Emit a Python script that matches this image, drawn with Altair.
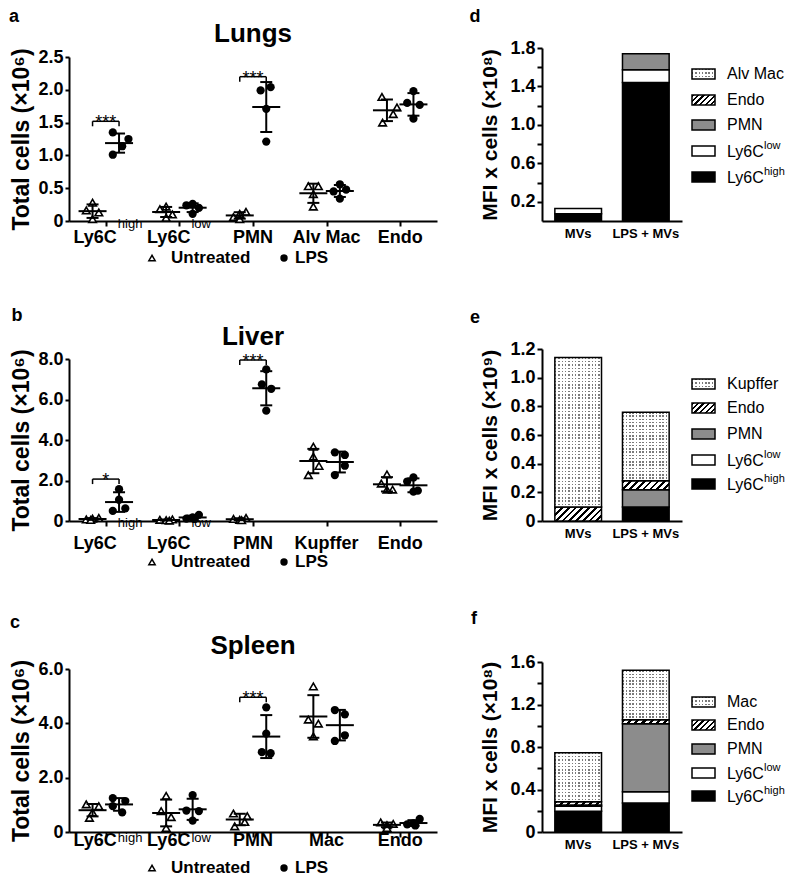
import altair as alt
import pandas as pd

FONT = "Liberation Sans"

# ---------------- Dot plot data (total cells, x10^6) ----------------
lung_labels = ["Ly6C", "Ly6C", "PMN", "Alv Mac", "Endo"]
lung_sups = ["high", "low", "", "", ""]
lung_untreated = [[0.28, 0.16, 0.13, 0.03], [0.22, 0.18, 0.10, 0.05], [0.14, 0.11, 0.06, 0.03],
                  [0.53, 0.53, 0.41, 0.22], [1.89, 1.73, 1.63, 1.50]]
lung_untreated_spread = [[0, -1, 1, 0], [0, -1, 1, 0], [1, 0, -1, 0], [-0.8, 0.8, 0, 0], [-0.8, 1.6, 1, -0.7]]
lung_lps = [[1.35, 1.25, 1.14, 1.01], [0.26, 0.24, 0.20, 0.11], [2.04, 1.99, 1.71, 1.21],
            [0.56, 0.48, 0.45, 0.34], [1.98, 1.80, 1.77, 1.56]]
lung_lps_spread = [[-1, 1.5, 0.5, -1], [0, -1, 1, 0], [0.7, -0.9, 0, 0], [0, 1, -1, 0], [0, -1, 1, 0]]
lung_sig_idx = [0, 2]
lung_sig_level = [1.52, 2.2]
lung_sig_text = ["***", "***"]
lung_yticks = [0, 0.5, 1.0, 1.5, 2.0, 2.5]

liver_labels = ["Ly6C", "Ly6C", "PMN", "Kupffer", "Endo"]
liver_sups = ["high", "low", "", "", ""]
liver_untreated = [[0.15, 0.12, 0.08, 0.05], [0.08, 0.06, 0.04, 0.02], [0.15, 0.10, 0.06, 0.04],
                   [3.67, 3.18, 2.72, 2.27], [2.30, 1.85, 1.55, 1.55]]
liver_untreated_spread = [[1, 0, -1, -0.3], [1, -1, 0, 0.5], [1, -1, 0, 0.3], [0, 0, 0.9, -0.8], [0, -0.9, 0, 0.9]]
liver_lps = [[1.57, 1.05, 0.62, 0.50], [0.30, 0.18, 0.12, 0.10], [7.49, 6.75, 6.53, 5.45],
             [3.39, 3.26, 2.73, 2.27], [2.15, 1.95, 1.50, 1.45]]
liver_lps_spread = [[0, 0, 1, -1], [1, 0, -1, 0.3], [0, -0.7, 0.8, 0], [-0.8, 0.8, 0.8, -0.8], [0, -1, 0.7, 0]]
liver_sig_idx = [0, 2]
liver_sig_level = [2.07, 7.95]
liver_sig_text = ["*", "***"]
liver_yticks = [0, 2, 4, 6, 8]

spleen_labels = ["Ly6C", "Ly6C", "PMN", "Mac", "Endo"]
spleen_sups = ["high", "low", "", "", ""]
spleen_untreated = [[1.02, 0.95, 0.72, 0.52], [1.33, 0.77, 0.55, 0.15], [0.68, 0.58, 0.37, 0.21],
                    [5.36, 4.14, 3.99, 3.52], [0.35, 0.30, 0.25, 0.15]]
spleen_untreated_spread = [[-1, 1, 0, -0.5], [0, -0.8, 0.8, 0], [-1, 1.2, 0.8, -0.8], [0, -0.8, 0.8, 0], [-1, 1, 0, 0]]
spleen_lps = [[1.25, 1.14, 0.95, 0.72], [1.36, 0.79, 0.77, 0.42], [4.59, 3.62, 2.94, 2.90],
              [4.49, 4.33, 3.56, 3.35], [0.48, 0.32, 0.28, 0.24]]
spleen_lps_spread = [[-1, 1, -1, 0.5], [0, -1, 1, 0], [0, 0, -0.7, 0.7], [-0.8, 0.8, 0.8, -0.8], [1, 0, -1, 0.3]]
spleen_sig_idx = [2]
spleen_sig_level = [4.96]
spleen_sig_text = ["***"]
spleen_yticks = [0, 2, 4, 6]

legend_names = ["Untreated", "LPS"]

# ---------------- Stacked bar data (MFI x cells) ----------------
mfi_groups = ["MVs", "LPS + MVs"]
lung_cells = ["Ly6C high", "Ly6C low", "PMN", "Endo", "Alv Mac"]
lung_mfi_mvs = [0.075, 0.055, 0.0, 0.0, 0.0]
lung_mfi_lps = [1.44, 0.135, 0.165, 0.0, 0.0]
lung_bar_ticks = [0.2, 0.4, 0.6, 0.8, 1.0, 1.2, 1.4, 1.6, 1.8]

liver_cells = ["Ly6C high", "Ly6C low", "PMN", "Endo", "Kupffer"]
liver_mfi_mvs = [0.0, 0.0, 0.0, 0.097, 1.043]
liver_mfi_lps = [0.098, 0.0, 0.12, 0.063, 0.478]
liver_bar_ticks = [0, 0.2, 0.4, 0.6, 0.8, 1.0, 1.2]

spleen_cells = ["Ly6C high", "Ly6C low", "PMN", "Endo", "Mac"]
spleen_mfi_mvs = [0.195, 0.047, 0.012, 0.03, 0.462]
spleen_mfi_lps = [0.273, 0.106, 0.64, 0.037, 0.466]
spleen_bar_ticks = [0, 0.2, 0.4, 0.6, 0.8, 1.0, 1.2, 1.4, 1.6]

W_DOT = 368
W_BAR = 140
PAD_IN, PAD_OUT = 0.31, 0.19
BAND_W = W_BAR / (2 - PAD_IN + 2 * PAD_OUT) * (1 - PAD_IN)


# ---------------- helpers ----------------
def stripe_stops(n, frac, c_on, c_off):
    stops = []
    for i in range(n):
        a, b, c = i / n, (i + frac) / n, (i + 1) / n
        stops += [alt.GradientStop(offset=round(a, 5), color=c_on), alt.GradientStop(offset=round(b, 5), color=c_on),
                  alt.GradientStop(offset=round(b, 5), color=c_off), alt.GradientStop(offset=round(c, 5), color=c_off)]
    return stops


def hatch_fill(w, h, period=7.0):
    r = h / w
    s = (1 + r) / (1 + r * r)
    n = max(1, round((w + h) / period))
    return alt.LinearGradient(gradient="linear", stops=stripe_stops(n, 0.42, "black", "white"),
                              x1=0, y1=0, x2=s, y2=s * r)


def dots_fill(w, period=3.3):
    n = max(1, round(w / period))
    return alt.LinearGradient(gradient="linear", stops=stripe_stops(n, 0.45, "#7a7a7a", "white"),
                              x1=0, y1=0, x2=1, y2=0)


def dots_mask(h, period=3.3):
    n = max(1, round(h / period))
    return alt.LinearGradient(gradient="linear", stops=stripe_stops(n, 0.45, "rgba(255,255,255,0)", "white"),
                              x1=0, y1=0, x2=0, y2=1)


def txt(text, x, y, size, weight="bold", align="center", baseline="middle"):
    return alt.Chart(pd.DataFrame({"t": [text]})).mark_text(
        fontSize=size, fontWeight=weight, align=align, baseline=baseline, color="black"
    ).encode(x=alt.value(x), y=alt.value(y), text="t:N")


def dot_panel(labels, sups, unt, unt_sp, lps, lps_sp, sig_idx, sig_lvl, sig_txt, ymax, yticks,
              title, letter, H, top_off, main_off, sup_off, leg_off, title_y, letter_xy):
    rows = []
    for g, vals_all, sp_all in (("Untreated", unt, unt_sp), ("LPS", lps, lps_sp)):
        for i, (vals, sps) in enumerate(zip(vals_all, sp_all)):
            for v, s in zip(vals, sps):
                rows.append(dict(idx=i, group=g, value=v, spread=s))
    df = pd.DataFrame(rows)

    xs = alt.Scale(domain=[-0.5, 4.5], nice=False, zero=False)
    ys = alt.Scale(domain=[0, ymax], range=[H, top_off], nice=False, zero=True)
    xax = alt.Axis(values=[0, 1, 2, 3, 4], labels=False, title=None, tickSize=5, tickWidth=2,
                   domainWidth=2, grid=False)
    yax = alt.Axis(values=yticks, labelExpr="datum.value == 0 ? '0' : format(datum.value, '.1f')",
                   title="Total cells (×10⁶)", titleFontSize=23, titleFontWeight="bold",
                   labelFontSize=18, labelFontWeight="bold", tickSize=4, tickWidth=2, domainWidth=2,
                   labelPadding=2, titlePadding=4, grid=False)

    def X(f):
        return alt.X(f, type="quantitative", scale=xs, axis=xax)

    def Y(f):
        return alt.Y(f, type="quantitative", scale=ys, axis=yax)

    pts = alt.Chart(df).transform_calculate(
        xc="datum.idx + (datum.group == 'LPS' ? 0.18 : -0.18)",
        xp="datum.xc + datum.spread * 0.085")
    tri = pts.transform_filter("datum.group == 'Untreated'").mark_point(
        shape="triangle-up", filled=True, fill="white", stroke="black", strokeWidth=1.6, size=58, opacity=1
    ).encode(x=X("xp"), y=Y("value"))
    circ = pts.transform_filter("datum.group == 'LPS'").mark_circle(
        size=68, color="black", opacity=1).encode(x=X("xp"), y=Y("value"))

    agg = alt.Chart(df).transform_aggregate(
        m="mean(value)", sd="stdev(value)", groupby=["idx", "group"]
    ).transform_calculate(
        xc="datum.idx + (datum.group == 'LPS' ? 0.18 : -0.18)",
        lo="datum.m - datum.sd", hi="datum.m + datum.sd")
    err = agg.mark_rule(strokeWidth=2, color="black").encode(x=X("xc"), y=Y("lo"), y2=alt.Y2("hi"))
    caps = agg.transform_fold(["lo", "hi"], as_=["end", "yv"]).mark_tick(
        orient="horizontal", size=12, thickness=2, color="black", opacity=1).encode(x=X("xc"), y=Y("yv"))
    mean = agg.mark_tick(orient="horizontal", size=28, thickness=2, color="black", opacity=1).encode(
        x=X("xc"), y=Y("m"))

    sdf = pd.DataFrame(dict(idx=sig_idx, level=sig_lvl, text=sig_txt))
    sb = alt.Chart(sdf).transform_calculate(xl="datum.idx - 0.18", xr="datum.idx + 0.18")
    hline = sb.mark_rule(strokeWidth=1.5, color="black").encode(x=X("xl"), x2=alt.X2("xr"), y=Y("level"))
    vt = sb.transform_fold(["xl", "xr"], as_=["side", "xe"]).mark_rule(
        strokeWidth=1.5, color="black", y2Offset=5).encode(x=X("xe"), y=Y("level"), y2=alt.Y2("level"))
    stars = sb.mark_text(fontSize=18, baseline="alphabetic", dy=7, color="black").encode(
        x=X("idx"), y=Y("level"), text="text:N")

    ldf = pd.DataFrame(dict(idx=list(range(len(labels))), main=labels, sup=sups))
    lb = alt.Chart(ldf)
    lab_main_s = lb.transform_filter("datum.sup != ''").mark_text(
        align="right", dx=11, fontSize=18, fontWeight="bold", baseline="alphabetic", color="black"
    ).encode(x=X("idx"), y=alt.value(H + main_off), text="main:N")
    lab_sup = lb.transform_filter("datum.sup != ''").mark_text(
        align="left", dx=12, fontSize=13, fontWeight="normal", baseline="alphabetic", color="black"
    ).encode(x=X("idx"), y=alt.value(H + sup_off), text="sup:N")
    lab_plain = lb.transform_filter("datum.sup == ''").mark_text(
        align="center", fontSize=18, fontWeight="bold", baseline="alphabetic", color="black"
    ).encode(x=X("idx"), y=alt.value(H + main_off), text="main:N")

    gdf = alt.Chart(pd.DataFrame({"name": legend_names}))
    ly = H + leg_off
    leg_tri = gdf.transform_filter("datum.name == 'Untreated'").mark_point(
        shape="triangle-up", filled=True, fill="white", stroke="black", strokeWidth=1.5, size=40, opacity=1
    ).encode(x=alt.value(83), y=alt.value(ly))
    leg_circ = gdf.transform_filter("datum.name == 'LPS'").mark_circle(size=55, color="black", opacity=1).encode(
        x=alt.value(215), y=alt.value(ly))
    leg_t1 = gdf.transform_filter("datum.name == 'Untreated'").mark_text(
        align="left", fontSize=17, fontWeight="bold", baseline="middle", color="black"
    ).encode(x=alt.value(102), y=alt.value(ly), text="name:N")
    leg_t2 = gdf.transform_filter("datum.name == 'LPS'").mark_text(
        align="left", fontSize=17, fontWeight="bold", baseline="middle", color="black"
    ).encode(x=alt.value(226), y=alt.value(ly), text="name:N")

    ttl = txt(title, W_DOT / 2, title_y, 26)
    let = txt(letter, letter_xy[0], letter_xy[1], 18)

    return alt.layer(tri, circ, err, caps, mean, hline, vt, stars, lab_main_s, lab_sup, lab_plain,
                     leg_tri, leg_circ, leg_t1, leg_t2, ttl, let).properties(width=W_DOT, height=H)


def bar_panel(cells, mvs, lps, ymax, ticks, label_expr, ytitle, H, top_off, letter, letter_xy, leg_y):
    rows = []
    for g, vals in ((mfi_groups[0], mvs), (mfi_groups[1], lps)):
        for k, (c, v) in enumerate(zip(cells, vals)):
            rows.append(dict(group=g, cell=c, order=k, value=v))
    df = pd.DataFrame(rows)
    ppu = (H - top_off) / ymax

    xs = alt.Scale(domain=mfi_groups, paddingInner=PAD_IN, paddingOuter=PAD_OUT)
    xax = alt.Axis(title=None, labelFontSize=13, labelFontWeight="bold", labelAngle=0, ticks=False,
                   labelPadding=6, domainWidth=2, grid=False)
    ys = alt.Scale(domain=[0, ymax], range=[H, top_off], nice=False, zero=True)
    yax = alt.Axis(values=ticks, labelExpr=label_expr, title=ytitle, titleFontSize=21, titleFontWeight="bold",
                   labelFontSize=18, labelFontWeight="bold", tickSize=5, tickWidth=2, domainWidth=2,
                   labelPadding=2, titlePadding=9, grid=False)
    X = alt.X("group:N", scale=xs, axis=xax, sort=mfi_groups)

    base = alt.Chart(df).transform_stack(
        stack="value", groupby=["group"], as_=["y0", "y1"], sort=[alt.SortField("order", order="ascending")])

    def seg(filt, **mk):
        return base.transform_filter(filt + " && datum.value > 0").mark_bar(**mk).encode(
            x=X, y=alt.Y("y0:Q", scale=ys, axis=yax), y2=alt.Y2("y1"))

    layers = [
        seg(f"datum.cell == '{cells[0]}'", fill="black", stroke="black", strokeWidth=1.5),
        seg(f"datum.cell == '{cells[1]}'", fill="white", stroke="black", strokeWidth=1.5),
        seg(f"datum.cell == '{cells[2]}'", fill="#8c8c8c", stroke="black", strokeWidth=1.5),
    ]
    for g, vals in ((mfi_groups[0], mvs), (mfi_groups[1], lps)):
        he = vals[3] * ppu
        if vals[3] > 0:
            layers.append(seg(f"datum.cell == '{cells[3]}' && datum.group == '{g}'",
                              fill=hatch_fill(BAND_W, he), stroke="black", strokeWidth=1.5))
        hd = vals[4] * ppu
        if vals[4] > 0:
            layers.append(seg(f"datum.cell == '{cells[4]}' && datum.group == '{g}'",
                              fill=dots_fill(BAND_W), strokeWidth=0))
            layers.append(seg(f"datum.cell == '{cells[4]}' && datum.group == '{g}'",
                              fill=dots_mask(hd), stroke="black", strokeWidth=1.5))

    # custom legend (top -> bottom: dotted, hatch, gray, white, black)
    names = [cells[4], cells[3], cells[2], cells[1], cells[0]]
    lx0, lx1, tx = 150, 173, 185
    ldf = pd.DataFrame({"name": names})
    for r, nm in enumerate(names):
        yc = leg_y[r]
        one = alt.Chart(ldf).transform_filter(f"datum.name == '{nm}'")
        enc = dict(x=alt.value(lx0), x2=alt.value(lx1), y=alt.value(yc - 5), y2=alt.value(yc + 5))
        if r == 0:
            layers.append(one.mark_rect(fill=dots_fill(lx1 - lx0)).encode(**enc))
            layers.append(one.mark_rect(fill=dots_mask(10), stroke="black", strokeWidth=1.5).encode(**enc))
        elif r == 1:
            layers.append(one.mark_rect(fill=hatch_fill(lx1 - lx0, 10, 6), stroke="black", strokeWidth=1.5).encode(**enc))
        else:
            col = {2: "#8c8c8c", 3: "white", 4: "black"}[r]
            layers.append(one.mark_rect(fill=col, stroke="black", strokeWidth=1.5).encode(**enc))
        if nm.startswith("Ly6C "):
            main, sup = nm.split(" ")
            layers.append(txt(main, tx, yc + 1, 16, weight="normal", align="left"))
            layers.append(txt(sup, tx + 37, yc - 5, 11, weight="normal", align="left"))
        else:
            layers.append(txt(nm, tx, yc, 16, weight="normal", align="left"))

    layers.append(txt(letter, letter_xy[0], letter_xy[1], 18))
    return alt.layer(*layers).properties(width=W_BAR, height=H)


# ---------------- panels ----------------
H1, H2, H3 = 173, 172, 183

a = dot_panel(lung_labels, lung_sups, lung_untreated, lung_untreated_spread, lung_lps, lung_lps_spread,
              lung_sig_idx, lung_sig_level, lung_sig_text, 2.5, lung_yticks, "Lungs", "a",
              H1, 9, 22, 7, 37, -14, (-55, -31))
b = dot_panel(liver_labels, liver_sups, liver_untreated, liver_untreated_spread, liver_lps, liver_lps_spread,
              liver_sig_idx, liver_sig_level, liver_sig_text, 8, liver_yticks, "Liver", "b",
              H2, 10, 28, 6, 41, -12, (-52, -33))
c = dot_panel(spleen_labels, spleen_sups, spleen_untreated, spleen_untreated_spread, spleen_lps,
              spleen_lps_spread, spleen_sig_idx, spleen_sig_level, spleen_sig_text, 6, spleen_yticks,
              "Spleen", "c", H3, 20, 14, 10, 36, -3, (-54, -26))

d = bar_panel(lung_cells, lung_mfi_mvs, lung_mfi_lps, 1.8, lung_bar_ticks,
              "(round(datum.value*10) % 4 == 2) ? format(datum.value, '.1f') : ''",
              "MFI x cells (×10⁸)", H1, 0, "d", (-67, -31), [26, 52, 77, 103, 129])
e = bar_panel(liver_cells, liver_mfi_mvs, liver_mfi_lps, 1.2, liver_bar_ticks,
              "datum.value == 0 ? '0' : format(datum.value, '.1f')",
              "MFI x cells (×10⁹)", H2, 0, "e", (-67, -31), [35, 59, 85, 111, 135])
f = bar_panel(spleen_cells, spleen_mfi_mvs, spleen_mfi_lps, 1.6, spleen_bar_ticks,
              "(round(datum.value*10) % 4 == 0) ? (datum.value == 0 ? '0' : format(datum.value, '.1f')) : ''",
              "MFI x cells (×10⁸)", H3, 13, "f", (-68, -30), [53, 76, 100, 124, 147])

chart = alt.concat(a, d, b, e, c, f, columns=2, align="each", bounds="flush",
                   spacing={"row": 128, "column": 105},
                   padding={"left": 0, "top": 0, "right": 0, "bottom": 0},
                   background="white").configure_view(
    stroke=None
).configure_axis(
    labelFont=FONT, titleFont=FONT, domainColor="black", tickColor="black", labelColor="black",
    titleColor="black"
).configure_text(font=FONT)

chart.save("out.html", embed_options={"renderer": "svg", "actions": False})
